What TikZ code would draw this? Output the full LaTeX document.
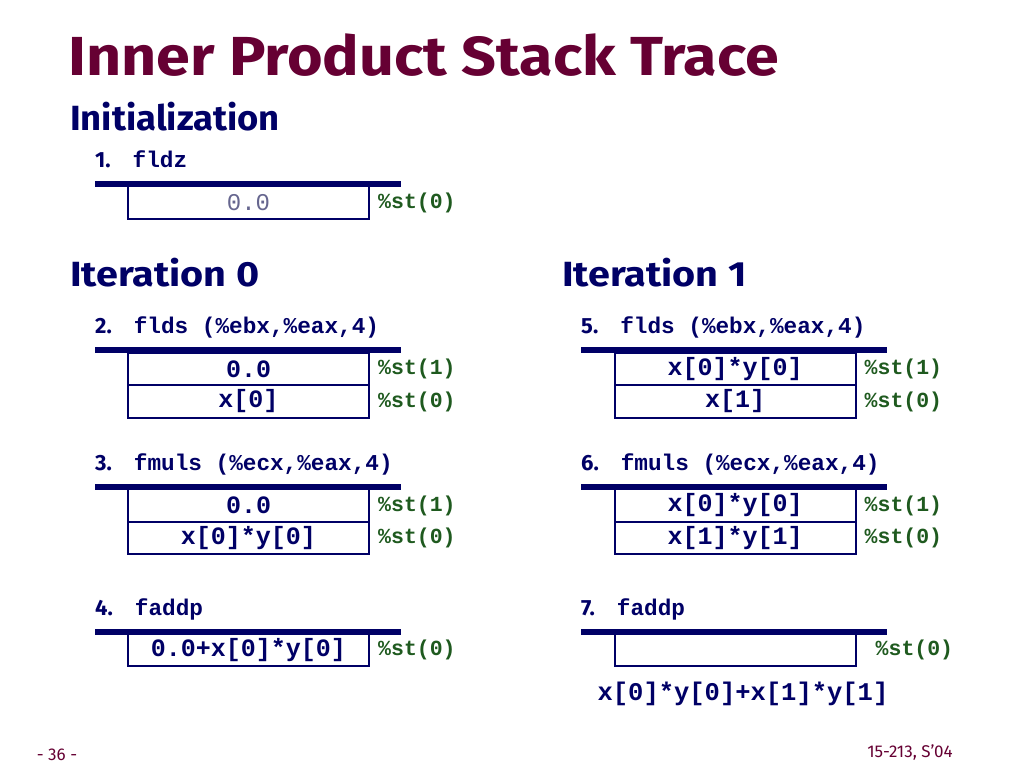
\documentclass[tikz,border=0pt]{standalone}
\usepackage{fontspec}
\setmainfont{Fira Sans}
\setmonofont{Liberation Mono}
\definecolor{navy}{HTML}{000066}
\definecolor{maroon}{HTML}{660033}
\definecolor{regreen}{HTML}{1F5A1F}
\definecolor{dimblue}{HTML}{66668F}
\tikzset{
  bar/.style={navy,line width=6pt},
  cell/.style={draw=navy,line width=2pt,minimum width=241pt,minimum height=32.5pt,inner sep=0pt,
    text=navy,font=\fontsize{25}{25}\selectfont\ttfamily\bfseries},
  reg/.style={anchor=west,inner sep=0pt,xshift=8pt,text=regreen,font=\fontsize{21.5}{21.5}\selectfont\ttfamily\bfseries},
  instr/.style={anchor=base west,inner sep=0pt,text=navy,font=\fontsize{22}{22}\selectfont\bfseries},
  heading/.style={anchor=base west,inner sep=0pt,text=navy,font=\fontsize{35}{35}\selectfont\bfseries},
  foot/.style={inner sep=0pt,text=maroon,font=\fontsize{17}{17}\selectfont}
}
\newcommand{\op}[1]{\hspace{1em}{\fontsize{22.7}{22.7}\selectfont\ttfamily #1}}
\newcommand{\wide}[2]{\scalebox{#1}[1]{#2}}
\begin{document}
\begin{tikzpicture}[x=1pt,y=-1pt]
\useasboundingbox[fill=white] (0,0) rectangle (1024,768);

% title and headings
\node[anchor=base west,inner sep=0pt,text=maroon,font=\fontsize{55}{55}\selectfont\bfseries] (title) at (68,75) {\wide{1.11}{Inner Product Stack Trace}};
\node[heading] (init) at (70,130) {\wide{1.04}{Initialization}};
\node[heading] (iter0) at (70,286) {\wide{1.13}{Iteration 0}};
\node[heading] (iter1) at (562,286) {\wide{1.13}{Iteration 1}};

% 1. fldz
\node[instr] (i1) at (95,167) {1.\op{fldz}};
\draw[bar] (95,184)--(401,184);
\node[cell,text=dimblue,font=\fontsize{24}{24}\selectfont\ttfamily] (s1a) at (248.5,202.5) {0.0};
\node[reg] at (s1a.east) {\%st(0)};

% 2. flds
\node[instr] (i2) at (95,333) {2.\op{flds (\%ebx,\%eax,4)}};
\draw[bar] (95,350)--(401,350);
\node[cell] (s2a) at (248.5,369) {0.0};
\node[cell] (s2b) at (248.5,401.5) {x[0]};
\node[reg] at (s2a.east) {\%st(1)};
\node[reg] at (s2b.east) {\%st(0)};

% 3. fmuls
\node[instr] (i3) at (95,470) {3.\op{fmuls (\%ecx,\%eax,4)}};
\draw[bar] (95,487)--(401,487);
\node[cell] (s3a) at (248.5,505.5) {0.0};
\node[cell] (s3b) at (248.5,538) {x[0]*y[0]};
\node[reg] at (s3a.east) {\%st(1)};
\node[reg] at (s3b.east) {\%st(0)};

% 4. faddp
\node[instr] (i4) at (95,615) {4.\op{faddp}};
\draw[bar] (95,632)--(401,632);
\node[cell] (s4a) at (248.5,650) {0.0+x[0]*y[0]};
\node[reg] at (s4a.east) {\%st(0)};

% 5. flds
\node[instr] (i5) at (581,333) {5.\op{flds (\%ebx,\%eax,4)}};
\draw[bar] (581,350)--(887,350);
\node[cell] (s5a) at (735,369) {x[0]*y[0]};
\node[cell] (s5b) at (735,401.5) {x[1]};
\node[reg] at (s5a.east) {\%st(1)};
\node[reg] at (s5b.east) {\%st(0)};

% 6. fmuls
\node[instr] (i6) at (581,470) {6.\op{fmuls (\%ecx,\%eax,4)}};
\draw[bar] (581,487)--(887,487);
\node[cell] (s6a) at (735,505.5) {x[0]*y[0]};
\node[cell] (s6b) at (735,538) {x[1]*y[1]};
\node[reg] at (s6a.east) {\%st(1)};
\node[reg] at (s6b.east) {\%st(0)};

% 7. faddp
\node[instr] (i7) at (581,615) {7.\op{faddp}};
\draw[bar] (581,632)--(887,632);
\node[cell] (s7a) at (735,650) {};
\node[reg,xshift=11pt] at (s7a.east) {\%st(0)};
\node[cell,draw=none,font=\fontsize{25.5}{25.5}\selectfont\ttfamily\bfseries] (sum) at (743,694) {x[0]*y[0]+x[1]*y[1]};

% footer
\node[foot] (page) at (57,755) {- 36 -};
\node[foot] (course) at (910,752) {15-213, S'04};
\end{tikzpicture}
\end{document}
